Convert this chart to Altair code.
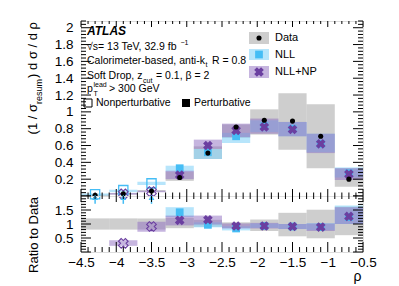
import altair as alt
import pandas as pd
import numpy as np

# ---------------- data ----------------
bin_lo = [-4.5, -4.1, -3.7, -3.3, -2.9, -2.5, -2.1, -1.7, -1.3, -0.9]
bin_hi = [-4.1, -3.7, -3.3, -2.9, -2.5, -2.1, -1.7, -1.3, -0.9, -0.5]
rho_c = [-4.3, -3.9, -3.5, -3.1, -2.7, -2.3, -1.9, -1.5, -1.1, -0.7]
nonpert = [1, 1, 1, 0, 0, 0, 0, 0, 0, 0]

data_val = [0.008, 0.026, 0.06, 0.22, 0.51, 0.82, 0.90, 0.89, 0.71, 0.20]
data_lo = [0.0, 0.018, 0.05, 0.18, 0.44, 0.69, 0.73, 0.55, 0.33, 0.11]
data_hi = [0.016, 0.034, 0.07, 0.29, 0.59, 0.85, 1.03, 1.22, 1.09, 0.33]

nll_val = [0.02, 0.07, 0.15, 0.33, 0.52, 0.71, 0.83, 0.80, 0.62, 0.27]
nll_lo = [0.005, 0.045, 0.13, 0.29, 0.44, 0.63, 0.76, 0.71, 0.52, 0.22]
nll_hi = [0.03, 0.075, 0.17, 0.36, 0.56, 0.75, 0.90, 0.88, 0.74, 0.34]

np_val = [None, 0.026, 0.053, 0.25, 0.60, 0.78, 0.82, 0.79, 0.62, 0.26]
np_lo = [None, 0.016, 0.045, 0.20, 0.56, 0.70, 0.74, 0.71, 0.51, 0.19]
np_hi = [None, 0.036, 0.062, 0.30, 0.67, 0.86, 0.92, 0.88, 0.74, 0.33]

# ratio to data panel
r_data_lo = [0.80, 0.80, 0.80, 0.85, 0.90, 0.86, 0.75, 0.56, 0.49, 0.60]
r_data_hi = [1.20, 1.20, 1.20, 1.22, 1.15, 1.06, 1.16, 1.40, 1.51, 1.62]
r_nll_val = [None, None, None, 1.42, 0.97, 0.84, 0.93, 0.91, 0.89, 1.25]
r_nll_lo = [None, None, None, 1.25, 0.88, 0.77, 0.86, 0.82, 0.78, 1.00]
r_nll_hi = [None, None, None, 1.60, 1.06, 0.92, 1.02, 1.00, 1.03, 1.66]
r_np_val = [None, 0.31, 0.91, 1.13, 1.15, 0.93, 0.93, 0.91, 0.89, 1.27]
r_np_lo = [None, 0.22, 0.72, 0.95, 0.98, 0.84, 0.84, 0.82, 0.75, 1.00]
r_np_hi = [None, 0.42, 1.08, 1.30, 1.30, 1.02, 1.04, 1.00, 1.02, 1.60]
r_arrow_lo = [1.72, 1.72, 1.72, None, None, None, None, None, None, None]
r_arrow_hi = [1.95, 1.95, 1.95, None, None, None, None, None, None, None]

x_major = [-4.5, -4.0, -3.5, -3.0, -2.5, -2.0, -1.5, -1.0, -0.5]
top_labels = [0.2, 0.4, 0.6, 0.8, 1.0, 1.2, 1.4, 1.6, 1.8, 2.0]
ratio_labels = [0.5, 1.0, 1.5]

# ---------------- styling ----------------
FONT = "Liberation Sans"
W, HT, HR = 282, 175, 56
C_NLL = "#45bdf5"
C_NLL_BAND = "#87d3f8"
C_NP = "#6b3fa0"
C_NP_BAND = "#8e6cc0"
C_DATA_BAND = "#a6a6a6"

df = pd.DataFrame(dict(
    lo=bin_lo, hi=bin_hi, rho=rho_c, npf=nonpert,
    d=data_val, dlo=data_lo, dhi=data_hi,
    n=nll_val, nlo=nll_lo, nhi=nll_hi,
    p=np_val, plo=np_lo, phi=np_hi,
    rdlo=r_data_lo, rdhi=r_data_hi,
    rn=r_nll_val, rnlo=r_nll_lo, rnhi=r_nll_hi,
    rp=r_np_val, rplo=r_np_lo, rphi=r_np_hi,
    alo=r_arrow_lo, ahi=r_arrow_hi,
))

xs = alt.Scale(domain=[-4.5, -0.5], nice=False, zero=False)
yts = alt.Scale(domain=[0, 2.08], nice=False, zero=False)
yrs = alt.Scale(domain=[0, 2.0], nice=False, zero=False)

top_yaxis = alt.Axis(values=top_labels, format=".1~f", ticks=False, domain=False,
                     grid=False, labelPadding=8, labelFontSize=13.5, labelFont=FONT,
                     labelColor="black", title=None)
rat_yaxis = alt.Axis(values=ratio_labels, format=".1~f", ticks=False, domain=False,
                     grid=False, labelPadding=8, labelFontSize=13.5, labelFont=FONT,
                     labelColor="black", title=None)
rat_xaxis = alt.Axis(values=x_major, format=".1~f", ticks=False, domain=False,
                     grid=False, labelPadding=3, labelFlush=False, labelFontSize=13.5,
                     labelFont=FONT, labelColor="black", title="ρ", titleAnchor="end",
                     titleFont=FONT, titleFontSize=14, titleFontWeight="normal",
                     titleColor="black", titlePadding=1, titleX=W - 2)


def XT(f):
    return alt.X(f"{f}:Q", scale=xs, axis=None)


def YT(f):
    return alt.Y(f"{f}:Q", scale=yts, axis=top_yaxis)


def XR(f):
    return alt.X(f"{f}:Q", scale=xs, axis=rat_xaxis)


def YR(f):
    return alt.Y(f"{f}:Q", scale=yrs, axis=rat_yaxis)


def one():
    return alt.Chart(pd.DataFrame({"t": [""]}))


def txt(s, x, y, size=10.5, align="left", **kw):
    return alt.Chart(pd.DataFrame({"t": [s]})).mark_text(
        align=align, baseline="middle", font=FONT, fontSize=size, color="black", **kw
    ).encode(x=alt.value(x), y=alt.value(y), text="t:N")


base = alt.Chart(df)
pert = alt.datum.npf == 0
npert = alt.datum.npf == 1

# ---------------- tick marks (drawn inside the frame) ----------------
x_all = np.round(np.arange(-4.5, -0.49, 0.1), 1)
x_minor = [v for v in x_all if not any(abs(v - m) < 1e-6 for m in x_major)]
ty_major = list(np.round(np.arange(0, 2.001, 0.2), 2))
ty_all = np.round(np.arange(0, 2.081, 0.04), 2)
ty_minor = [v for v in ty_all if not any(abs(v - m) < 1e-6 for m in ty_major)]
ry_major = [0.0, 0.5, 1.0, 1.5, 2.0]
ry_all = np.round(np.arange(0, 2.001, 0.1), 1)
ry_minor = [v for v in ry_all if not any(abs(v - m) < 1e-6 for m in ry_major)]


def yticks(vals, Yf, L, H):
    d = alt.Chart(pd.DataFrame({"v": vals}))
    left = d.mark_rule(color="black", strokeWidth=1).encode(y=Yf("v"), x=alt.value(0), x2=alt.value(L))
    right = d.mark_rule(color="black", strokeWidth=1).encode(y=Yf("v"), x=alt.value(W - L), x2=alt.value(W))
    return [left, right]


def xticks(vals, Xf, L_top, L_bot, H):
    d = alt.Chart(pd.DataFrame({"v": vals}))
    top = d.mark_rule(color="black", strokeWidth=1).encode(x=Xf("v"), y=alt.value(0), y2=alt.value(L_top))
    bot = d.mark_rule(color="black", strokeWidth=1).encode(x=Xf("v"), y=alt.value(H - L_bot), y2=alt.value(H))
    return [top, bot]


# ---------------- top panel ----------------
top_layers = [
    base.mark_rect(fill=C_DATA_BAND, opacity=0.55).encode(x=XT("lo"), x2=alt.X2("hi"), y=YT("dlo"), y2=alt.Y2("dhi")),
    base.mark_rect(fill=C_NLL_BAND, opacity=0.6).encode(x=XT("lo"), x2=alt.X2("hi"), y=YT("nlo"), y2=alt.Y2("nhi")),
    base.mark_rect(fill=C_NP_BAND, opacity=0.5).encode(x=XT("lo"), x2=alt.X2("hi"), y=YT("plo"), y2=alt.Y2("phi")),
    base.transform_filter(pert).mark_point(shape="square", filled=True, size=60, color=C_NLL, opacity=1).encode(x=XT("rho"), y=YT("n")),
    base.transform_filter(npert).mark_point(shape="square", filled=False, size=85, color=C_NLL, strokeWidth=1.3, opacity=1).encode(x=XT("rho"), y=YT("n")),
    base.transform_filter(pert).mark_point(shape="cross", angle=45, filled=True, size=95, color=C_NP, opacity=1).encode(x=XT("rho"), y=YT("p")),
    base.transform_filter(npert).mark_point(shape="cross", angle=45, filled=False, size=95, color=C_NP, strokeWidth=1.1, opacity=1).encode(x=XT("rho"), y=YT("p")),
    base.mark_point(shape="circle", filled=True, size=26, color="black", opacity=1).encode(x=XT("rho"), y=YT("d")),
]
top_layers += yticks(ty_major, YT, 10, HT) + yticks(ty_minor, YT, 5, HT)
top_layers += xticks(x_major, XT, 6, 7, HT) + xticks(x_minor, XT, 3, 3.5, HT)

# y-axis title with subscript (rotated)
ytx = -48
top_layers += [
    txt(") d σ / d ρ", ytx, 1, size=13, align="right", angle=270),
    txt("resum", ytx + 5.5, 58, size=9, align="right", angle=270),
    txt("(1 / σ", ytx, 83, size=13, align="right", angle=270),
]

# annotations
top_layers += [
    txt("ATLAS", 6, 9.5, size=12, fontWeight="bold", fontStyle="italic"),
    txt("√s= 13 TeV, 32.9 fb", 6, 26),
    txt("−1", 99.5, 22, size=7),
    txt("Calorimeter-based, anti-k", 6, 40),
    txt("t", 124.5, 44, size=7),
    txt("R = 0.8", 131, 40),
    txt("Soft Drop, z", 6, 55),
    txt("cut", 62, 59.5, size=7),
    txt("= 0.1, β = 2", 75, 55),
    txt("p", 6, 68),
    txt("T", 12.5, 72.5, size=7),
    txt("lead", 12.5, 63.5, size=7),
    txt("> 300 GeV", 28, 68),
    one().mark_point(shape="square", filled=False, size=64, color="black", strokeWidth=1, opacity=1).encode(x=alt.value(7), y=alt.value(82)),
    txt("Nonperturbative", 15, 82),
    one().mark_point(shape="square", filled=True, size=64, color="black", opacity=1).encode(x=alt.value(105), y=alt.value(82)),
    txt("Perturbative", 113, 82),
]

# legend
lx0, lx1 = 168, 188
leg = [(11, 23, C_DATA_BAND, 0.55), (28, 39, C_NLL_BAND, 0.6), (45, 57, C_NP_BAND, 0.5)]
for (y0, y1, c, o) in leg:
    top_layers.append(one().mark_rect(fill=c, opacity=o).encode(
        x=alt.value(lx0), x2=alt.value(lx1), y=alt.value(y0), y2=alt.value(y1)))
top_layers += [
    one().mark_point(shape="circle", filled=True, size=26, color="black", opacity=1).encode(x=alt.value(178), y=alt.value(17)),
    one().mark_point(shape="square", filled=True, size=60, color=C_NLL, opacity=1).encode(x=alt.value(178), y=alt.value(33.5)),
    one().mark_point(shape="cross", angle=45, filled=True, size=95, color=C_NP, opacity=1).encode(x=alt.value(178), y=alt.value(51)),
    txt("Data", 194, 17, size=11),
    txt("NLL", 194, 33.5, size=11),
    txt("NLL+NP", 194, 51, size=11),
]

top = alt.layer(*top_layers).properties(width=W, height=HT)

# ---------------- ratio panel ----------------
rat_layers = [
    base.mark_rect(fill=C_DATA_BAND, opacity=0.55).encode(x=XR("lo"), x2=alt.X2("hi"), y=YR("rdlo"), y2=alt.Y2("rdhi")),
    base.mark_rect(fill=C_NLL_BAND, opacity=0.6).encode(x=XR("lo"), x2=alt.X2("hi"), y=YR("rnlo"), y2=alt.Y2("rnhi")),
    base.mark_rect(fill=C_NP_BAND, opacity=0.5).encode(x=XR("lo"), x2=alt.X2("hi"), y=YR("rplo"), y2=alt.Y2("rphi")),
    base.mark_point(shape="square", filled=True, size=60, color=C_NLL, opacity=1).encode(x=XR("rho"), y=YR("rn")),
    base.transform_filter(pert).mark_point(shape="cross", angle=45, filled=True, size=95, color=C_NP, opacity=1).encode(x=XR("rho"), y=YR("rp")),
    base.transform_filter(npert).mark_point(shape="cross", angle=45, filled=False, size=95, color=C_NP, strokeWidth=1.1, opacity=1).encode(x=XR("rho"), y=YR("rp")),
    base.mark_rule(color=C_NLL, strokeWidth=1.5).encode(x=XR("rho"), y=YR("alo"), y2=alt.Y2("ahi")),
    base.mark_point(shape="triangle-up", filled=True, size=35, color=C_NLL, opacity=1).encode(x=XR("rho"), y=YR("ahi")),
]
rat_layers += yticks(ry_major, YR, 10, HR) + yticks(ry_minor, YR, 5, HR)
rat_layers += xticks(x_major, XR, 6, 10, HR) + xticks(x_minor, XR, 3, 5, HR)
rat_layers += [txt("Ratio to Data", -47, 1, size=13, align="right", angle=270)]

ratio = alt.layer(*rat_layers).properties(width=W, height=HR)

chart = alt.vconcat(top, ratio, spacing=0, bounds="flush").properties(
    padding={"left": 18, "top": 12, "right": 5, "bottom": 0}
).configure_view(stroke="black", strokeWidth=1).configure(font=FONT)

chart.save("out.html", embed_options={"renderer": "svg", "actions": False})
